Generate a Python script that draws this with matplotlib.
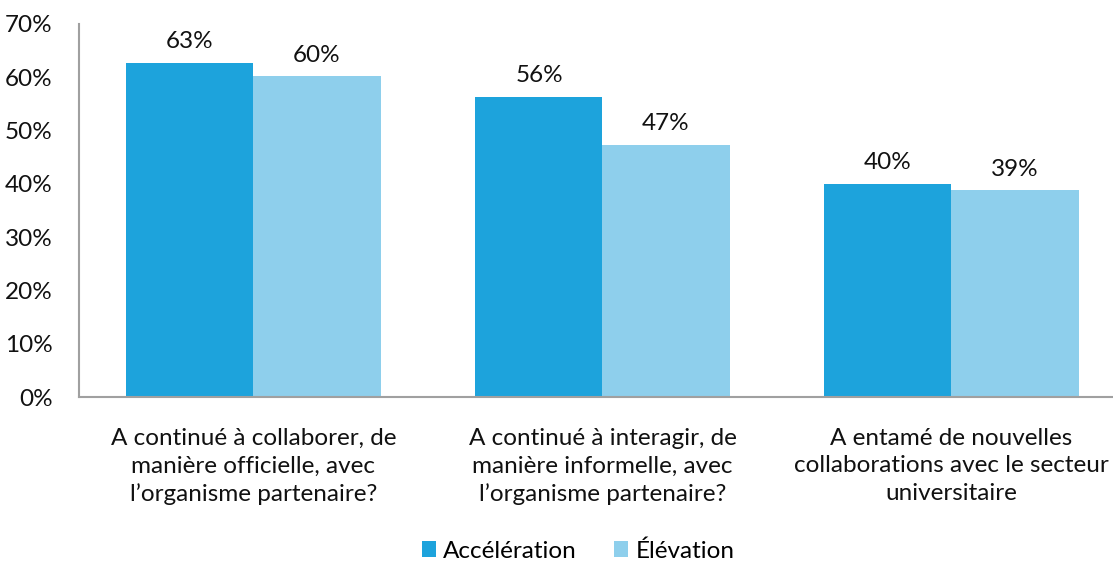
import matplotlib.pyplot as plt
import numpy as np

plt.rcParams['font.family'] = ['Lato', 'DejaVu Sans']

categories = ["A continué à collaborer, de\nmanière officielle, avec\nl’organisme partenaire?",
              "A continué à interagir, de\nmanière informelle, avec\nl’organisme partenaire?",
              "A entamé de nouvelles\ncollaborations avec le secteur\nuniversitaire"]
acceleration = [62.7, 56.3, 40.0]
elevation = [60.2, 47.3, 38.8]
series_names = ["Accélération", "Élévation"]

c_dark = "#1da3dc"
c_light = "#8ecfec"
fs = 17.5

fig = plt.figure(figsize=(11.13, 5.63), dpi=100)
ax = fig.add_axes([79 / 1113, 1 - 397 / 563, 1047 / 1113, 373 / 563])

x = np.arange(len(categories))
w = 0.364
b1 = ax.bar(x - w / 2, acceleration, w, color=c_dark, label=series_names[0])
b2 = ax.bar(x + w / 2, elevation, w, color=c_light, label=series_names[1])

for bars in (b1, b2):
    for r in bars:
        v = r.get_height()
        ax.text(r.get_x() + r.get_width() / 2, v + 2.0, f"{round(v):.0f}%",
                ha="center", va="bottom", fontsize=fs, color="#111111")

ax.set_xlim(-0.5, 2.5)
ax.set_ylim(0, 70)
ax.set_yticks(np.arange(0, 71, 10))
ax.set_yticklabels([f"{t}%" for t in range(0, 71, 10)], fontsize=fs)
ax.set_xticks(x)
ax.set_xticklabels(categories, fontsize=fs, linespacing=1.4)
ax.tick_params(axis="both", length=0, colors="#111111")
ax.tick_params(axis="y", pad=19)
ax.tick_params(axis="x", pad=22)

for s in ("top", "right"):
    ax.spines[s].set_visible(False)
for s in ("left", "bottom"):
    ax.spines[s].set_color("#a0a0a0")
    ax.spines[s].set_linewidth(1.5)

fig.legend(loc="center", bbox_to_anchor=(578 / 1113, 1 - 551 / 563), ncol=2,
           frameon=False, fontsize=fs, handlelength=0.6, handleheight=0.6,
           handletextpad=0.3, columnspacing=1.5)

fig.savefig("out.png", dpi=100)
